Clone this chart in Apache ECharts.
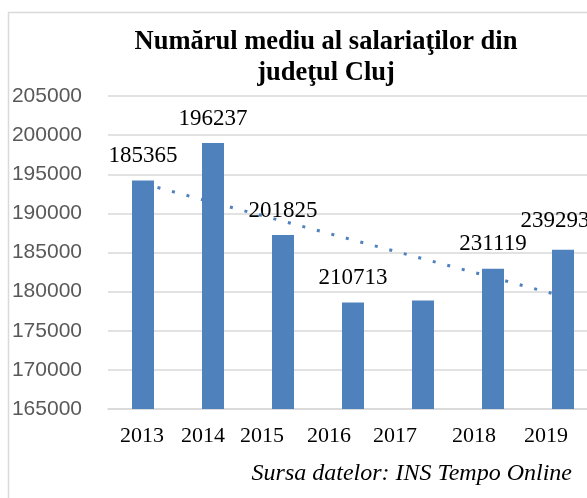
<!DOCTYPE html>
<html>
<head>
<meta charset="utf-8">
<script src="https://cdn.jsdelivr.net/npm/echarts@6/dist/echarts.min.js"></script>
<style>
  html, body { margin: 0; padding: 0; background: #fff; }
  #chart { width: 587px; height: 498px; }
</style>
</head>
<body>
<div id="chart"></div>
<script>
// data
const years = ['2013', '2014', '2015', '2016', '2017', '2018', '2019'];
const barValues = [194190, 198980, 187240, 178600, 178850, 182920, 185340];
const barLabels = ['185365', '196237', '201825', '210713', '', '231119', '239293'];
const trendValues = [193800, null, null, null, null, null, 179400];
const yTicks = { min: 165000, max: 205000, step: 5000 };

// the original places some texts off-centre; these nudges copy that
const yearShift = [1, 10, 21, 24, 28, 19, 17];
const labelNudge = [[0, 0], [0, 0], [0, 0], [0, 0], [0, 0], [0, 0], [-8, -4]];

const chart = echarts.init(document.getElementById('chart'));
const serif = '"Liberation Serif", "Times New Roman", serif';

chart.setOption({
    animation: false,
    title: {
        text: 'Numărul mediu al salariaţilor din\njudeţul Cluj',
        left: 321,
        top: 22,
        textAlign: 'center',
        textStyle: {
            fontFamily: serif,
            fontWeight: 'bold',
            fontSize: 26.5,
            lineHeight: 31,
            color: '#000'
        }
    },
    grid: { left: 108, top: 96, width: 490, height: 313, outerBoundsMode: 'none' },
    xAxis: {
        type: 'category',
        data: years.map((y, i) => ({
            value: y,
            textStyle: { padding: [0, yearShift[i] * 2, 0, 0] }
        })),
        axisLine: { lineStyle: { color: '#d9d9d9', width: 1.5 } },
        axisTick: { show: false },
        axisLabel: {
            margin: 16,
            fontFamily: serif,
            fontSize: 22,
            color: '#000'
        }
    },
    yAxis: {
        type: 'value',
        min: yTicks.min,
        max: yTicks.max,
        interval: yTicks.step,
        axisLine: { show: false },
        axisTick: { show: false },
        splitLine: { lineStyle: { color: '#d9d9d9', width: 1.5 } },
        axisLabel: {
            margin: 26,
            fontFamily: '"Liberation Sans", Arial, sans-serif',
            fontSize: 21,
            color: '#595959',
            formatter: v => String(v)
        }
    },
    series: [
        {
            type: 'bar',
            data: barValues.map((v, i) => ({
                value: v,
                label: { offset: labelNudge[i] }
            })),
            barWidth: 22,
            itemStyle: { color: '#4f81bd' },
            label: {
                show: true,
                position: 'top',
                distance: 13,
                fontFamily: serif,
                fontSize: 23,
                color: '#000',
                formatter: p => barLabels[p.dataIndex]
            },
            z: 2
        },
        {
            type: 'line',
            data: trendValues,
            connectNulls: true,
            symbol: 'none',
            silent: true,
            lineStyle: { color: '#4f81bd', width: 3, type: [3, 12], cap: 'butt' },
            z: 3
        }
    ],
    graphic: [
        {
            type: 'rect',
            shape: { x: 8.5, y: 12.5, width: 700, height: 600 },
            style: { fill: 'none', stroke: '#d9d9d9', lineWidth: 1.5 },
            silent: true
        },
        {
            type: 'text',
            x: 572,
            y: 474,
            style: {
                text: 'Sursa datelor: INS Tempo Online',
                align: 'right',
                verticalAlign: 'middle',
                font: 'italic 24px ' + serif,
                fill: '#000'
            }
        }
    ]
});
</script>
</body>
</html>
